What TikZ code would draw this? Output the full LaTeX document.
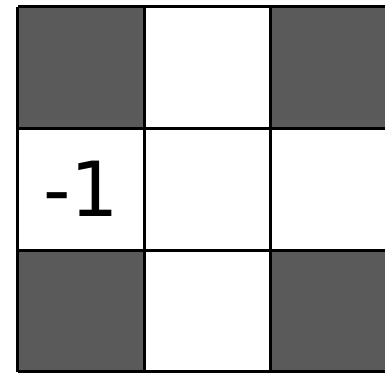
\documentclass[tikz,border=0pt]{standalone}
\usepackage{fontspec}
\setmainfont{DejaVu Sans}
\usepackage{tikz}
\usetikzlibrary{positioning}
\definecolor{cellgray}{HTML}{5A5A5A}

\begin{document}
\begin{tikzpicture}[x=1pt,y=-1pt,grid/.style={line width=3pt,black},lab/.style={font=\fontsize{76}{80}\selectfont,inner sep=0pt}]
\useasboundingbox (0,0) rectangle (385,373);
\clip (0,0) rectangle (385,373);
\fill[white] (0,0) rectangle (385,373);
% dark corner cells
\foreach \x/\y in {17.5/6.5,270.5/6.5,17.5/250,270.5/250}
  \fill[cellgray] (\x,\y) rectangle ++(126.5,121.5);
% grid lines
\foreach \x in {17.5,144,270.5,397} \draw[grid] (\x,6.5) -- (\x,371.5);
\foreach \y in {6.5,128,250,371.5} \draw[grid] (17.5,\y) -- (397,\y);
\node[lab] (val) at (81,189) {-1};
\end{tikzpicture}
\end{document}
